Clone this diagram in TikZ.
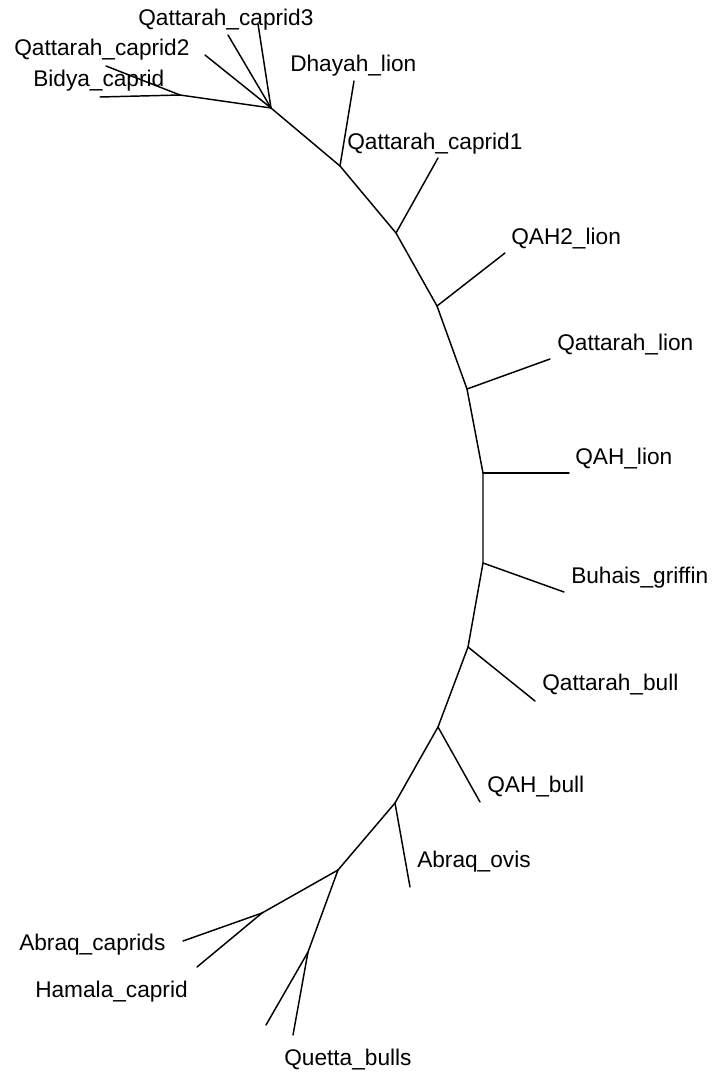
\documentclass[tikz,border=0pt]{standalone}
\usepackage{fontspec}
\setmainfont{Liberation Sans}
\begin{document}
\begin{tikzpicture}[x=0.75pt,y=-0.75pt,
  br/.style={line width=1.1pt,line cap=round},
  lbl/.style={anchor=base west,inner sep=0pt,font=\fontsize{17}{20}\selectfont}]
\useasboundingbox[fill=white] (0,0) rectangle (718,1074);
% internal nodes
\coordinate (h1) at (271,108);
\coordinate (hb) at (180,95);
\coordinate (n2) at (340,166);
\coordinate (n3) at (396,233);
\coordinate (n4) at (437,306);
\coordinate (n5) at (467,389);
\coordinate (n6) at (483,473);
\coordinate (n7) at (483,563);
\coordinate (n8) at (468,647);
\coordinate (n9) at (438,727);
\coordinate (n10) at (395,803);
\coordinate (n11) at (338,870);
\coordinate (n12) at (262,913);
\coordinate (n13) at (308,952);
% leaf ends
\coordinate (lb1) at (100,97);
\coordinate (lb2) at (106,66);
\coordinate (lc2) at (205,55);
\coordinate (lc3a) at (228,35);
\coordinate (lc3b) at (258,24);
\coordinate (ldh) at (354,81);
\coordinate (lq1) at (438,158);
\coordinate (lqah2) at (505,253);
\coordinate (lql) at (550,359);
\coordinate (lqah) at (569,473);
\coordinate (lbu) at (564,592);
\coordinate (lqb) at (535,701);
\coordinate (lqahb) at (480,802);
\coordinate (lao) at (410,887);
\coordinate (lac) at (183,941);
\coordinate (lhc) at (197,967);
\coordinate (lqu1) at (266,1025);
\coordinate (lqu2) at (293,1035);
% backbone
\draw[br] (h1) -- (n2) -- (n3) -- (n4) -- (n5) -- (n6) -- (n7) -- (n8) -- (n9) -- (n10) -- (n11);
\draw[br] (n11) -- (n12);
\draw[br] (n11) -- (n13);
\draw[br] (h1) -- (hb);
% leaves
\draw[br] (hb) -- (lb1);
\draw[br] (hb) -- (lb2);
\draw[br] (h1) -- (lc2);
\draw[br] (h1) -- (lc3a);
\draw[br] (h1) -- (lc3b);
\draw[br] (n2) -- (ldh);
\draw[br] (n3) -- (lq1);
\draw[br] (n4) -- (lqah2);
\draw[br] (n5) -- (lql);
\draw[br] (n6) -- (lqah);
\draw[br] (n7) -- (lbu);
\draw[br] (n8) -- (lqb);
\draw[br] (n9) -- (lqahb);
\draw[br] (n10) -- (lao);
\draw[br] (n12) -- (lac);
\draw[br] (n12) -- (lhc);
\draw[br] (n13) -- (lqu1);
\draw[br] (n13) -- (lqu2);
% labels
\node[lbl] (t1) at (138,26) {Qattarah\_caprid3};
\node[lbl] (t2) at (14,56) {Qattarah\_caprid2};
\node[lbl] (t3) at (33,87) {Bidya\_caprid};
\node[lbl] (t4) at (290,72) {Dhayah\_lion};
\node[lbl] (t5) at (347,149) {Qattarah\_caprid1};
\node[lbl] (t6) at (511,244) {QAH2\_lion};
\node[lbl] (t7) at (557,350) {Qattarah\_lion};
\node[lbl] (t8) at (575,464) {QAH\_lion};
\node[lbl] (t9) at (571,583) {Buhais\_griffin};
\node[lbl] (t10) at (542,690) {Qattarah\_bull};
\node[lbl] (t11) at (487,792) {QAH\_bull};
\node[lbl] (t12) at (417,867) {Abraq\_ovis};
\node[lbl] (t13) at (19,950) {Abraq\_caprids};
\node[lbl] (t14) at (35,997) {Hamala\_caprid};
\node[lbl] (t15) at (284,1065) {Quetta\_bulls};
\end{tikzpicture}
\end{document}
